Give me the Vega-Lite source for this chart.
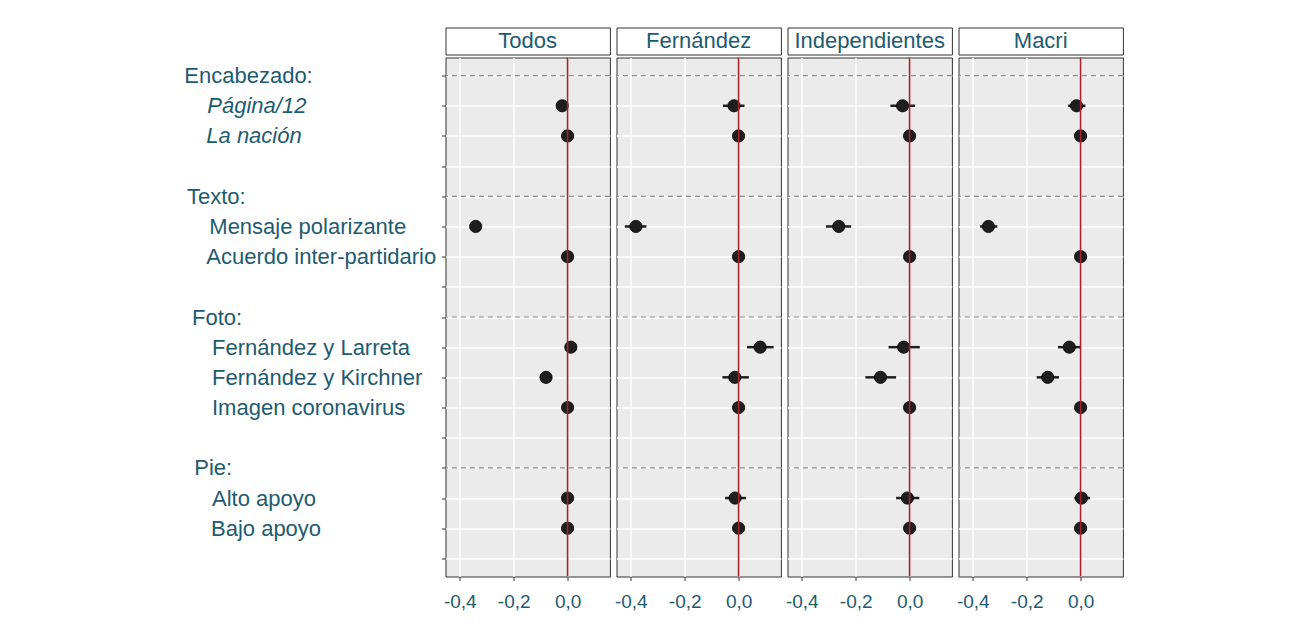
{
  "$schema": "https://vega.github.io/schema/vega-lite/v6.json",
  "background": "white",
  "padding": {"left": 182.5, "top": 26.5, "right": 0, "bottom": 0},
  "config": {
    "font": "Liberation Sans",
    "axis": {"labelFont": "Liberation Sans", "labelColor": "#1d5b70"},
    "text": {"font": "Liberation Sans"}
  },
  "datasets": {
    "hdr": [{"row": "Encabezado:"}, {"row": "Texto:"}, {"row": "Foto:"}, {"row": "Pie:"}],
    "est": [
      {"panel": "Todos", "row": "Página/12", "est": -0.02, "lo": -0.03, "hi": -0.01},
      {"panel": "Todos", "row": "La nación", "est": 0, "lo": 0, "hi": 0},
      {"panel": "Todos", "row": "Mensaje polarizante", "est": -0.341, "lo": -0.355, "hi": -0.327},
      {"panel": "Todos", "row": "Acuerdo inter-partidario", "est": 0, "lo": 0, "hi": 0},
      {"panel": "Todos", "row": "Fernández y Larreta", "est": 0.012, "lo": -0.005, "hi": 0.03},
      {"panel": "Todos", "row": "Fernández y Kirchner", "est": -0.08, "lo": -0.1, "hi": -0.06},
      {"panel": "Todos", "row": "Imagen coronavirus", "est": 0, "lo": 0, "hi": 0},
      {"panel": "Todos", "row": "Alto apoyo", "est": 0, "lo": -0.008, "hi": 0.008},
      {"panel": "Todos", "row": "Bajo apoyo", "est": 0, "lo": 0, "hi": 0},
      {"panel": "Fernández", "row": "Página/12", "est": -0.017, "lo": -0.058, "hi": 0.022},
      {"panel": "Fernández", "row": "La nación", "est": 0, "lo": 0, "hi": 0},
      {"panel": "Fernández", "row": "Mensaje polarizante", "est": -0.381, "lo": -0.422, "hi": -0.342},
      {"panel": "Fernández", "row": "Acuerdo inter-partidario", "est": 0, "lo": 0, "hi": 0},
      {"panel": "Fernández", "row": "Fernández y Larreta", "est": 0.08, "lo": 0.031, "hi": 0.13},
      {"panel": "Fernández", "row": "Fernández y Kirchner", "est": -0.014, "lo": -0.06, "hi": 0.038},
      {"panel": "Fernández", "row": "Imagen coronavirus", "est": 0, "lo": 0, "hi": 0},
      {"panel": "Fernández", "row": "Alto apoyo", "est": -0.013, "lo": -0.05, "hi": 0.027},
      {"panel": "Fernández", "row": "Bajo apoyo", "est": 0, "lo": 0, "hi": 0},
      {"panel": "Independientes", "row": "Página/12", "est": -0.026, "lo": -0.071, "hi": 0.02},
      {"panel": "Independientes", "row": "La nación", "est": 0, "lo": 0, "hi": 0},
      {"panel": "Independientes", "row": "Mensaje polarizante", "est": -0.263, "lo": -0.31, "hi": -0.217},
      {"panel": "Independientes", "row": "Acuerdo inter-partidario", "est": 0, "lo": 0, "hi": 0},
      {"panel": "Independientes", "row": "Fernández y Larreta", "est": -0.022, "lo": -0.078, "hi": 0.038},
      {"panel": "Independientes", "row": "Fernández y Kirchner", "est": -0.108, "lo": -0.164, "hi": -0.05},
      {"panel": "Independientes", "row": "Imagen coronavirus", "est": 0, "lo": 0, "hi": 0},
      {"panel": "Independientes", "row": "Alto apoyo", "est": -0.008, "lo": -0.05, "hi": 0.036},
      {"panel": "Independientes", "row": "Bajo apoyo", "est": 0, "lo": 0, "hi": 0},
      {"panel": "Macri", "row": "Página/12", "est": -0.015, "lo": -0.046, "hi": 0.018},
      {"panel": "Macri", "row": "La nación", "est": 0, "lo": 0, "hi": 0},
      {"panel": "Macri", "row": "Mensaje polarizante", "est": -0.342, "lo": -0.373, "hi": -0.309},
      {"panel": "Macri", "row": "Acuerdo inter-partidario", "est": 0, "lo": 0, "hi": 0},
      {"panel": "Macri", "row": "Fernández y Larreta", "est": -0.042, "lo": -0.084, "hi": 0.0},
      {"panel": "Macri", "row": "Fernández y Kirchner", "est": -0.122, "lo": -0.163, "hi": -0.08},
      {"panel": "Macri", "row": "Imagen coronavirus", "est": 0, "lo": 0, "hi": 0},
      {"panel": "Macri", "row": "Alto apoyo", "est": 0.003, "lo": -0.023, "hi": 0.035},
      {"panel": "Macri", "row": "Bajo apoyo", "est": 0, "lo": 0, "hi": 0}
    ]
  },
  "spacing": 2,
  "hconcat": [
    {
      "spacing": 0,
      "vconcat": [
        {"width": 164.4, "height": 27, "view": {"fill": "white", "stroke": "#333333", "strokeWidth": 1},
         "data": {"values": [{"panel": "Todos"}]},
         "mark": {"type": "text", "fontSize": 22, "color": "#1d5b70", "font": "Liberation Sans"},
         "encoding": {"text": {"field": "panel"}}},
        {"width": 164.4, "height": 519, "view": {"fill": "#EBEBEB", "stroke": "#333333", "strokeWidth": 1},
         "layer": [
          {"data": {"name": "hdr"}, "mark": {"type": "rule", "color": "#8a8a8a", "strokeDash": [5, 4], "strokeWidth": 1.2},
           "encoding": {"y": {"field": "row", "type": "nominal", "title": null,
             "scale": {"type": "point", "padding": 0.6, "domain": ["Encabezado:","Página/12","La nación","b1","Texto:","Mensaje polarizante","Acuerdo inter-partidario","b2","Foto:","Fernández y Larreta","Fernández y Kirchner","Imagen coronavirus","b3","Pie:","Alto apoyo","Bajo apoyo","b4"]},
             "axis": {"labels": true, "ticks": true, "tickSize": 4, "tickColor": "#333333", "labelAlign": "left", "labelBaseline": "middle", "labelFontSize": 22, "labelLimit": 0,
               "labelPadding": {"condition": [
                 {"test": "datum.value === 'Encabezado:'", "value": 257.7},
                 {"test": "datum.value === 'Texto:'", "value": 255},
                 {"test": "datum.value === 'Foto:'", "value": 250},
                 {"test": "datum.value === 'Pie:'", "value": 247.7},
                 {"test": "datum.value === 'Página/12'", "value": 234.7},
                 {"test": "datum.value === 'Mensaje polarizante'", "value": 232.7},
                 {"test": "datum.value === 'La nación' || datum.value === 'Acuerdo inter-partidario'", "value": 235.7},
                 {"test": "datum.value === 'Bajo apoyo'", "value": 231}
               ], "value": 230},
               "labelExpr": "test(/^b[0-9]$/, datum.value) ? '' : datum.value",
               "labelFontStyle": {"condition": {"test": "indexof(['Página/12','La nación'], datum.value) >= 0", "value": "italic"}, "value": "normal"},
               "grid": true, "gridColor": "white", "gridWidth": 1.3, "domain": false}}}},
          {"data": {"name": "est"}, "transform": [{"filter": "datum.panel === 'Todos'"}],
           "mark": {"type": "rule", "color": "#1e1e1e", "strokeWidth": 2.5},
           "encoding": {"x": {"field": "lo", "type": "quantitative", "title": null, "scale": {"domain": [-0.453, 0.157], "nice": false, "zero": false},
             "axis": {"values": [-0.4, -0.3, -0.2, -0.1, 0, 0.1], "labelExpr": "round(datum.value*10) % 2 === 0 ? replace(replace(format(datum.value, '.1f'), '.', ','), '\u2212', '-') : ''",
               "tickOpacity": {"condition": {"test": "round(datum.value*10) % 2 === 0", "value": 1}, "value": 0},
               "gridWidth": {"condition": {"test": "round(datum.value*10) % 2 === 0", "value": 1.4}, "value": 0.7},
               "gridColor": "white", "tickColor": "#333333", "tickSize": 4, "labelFontSize": 19, "labelPadding": 12, "domain": false, "labelFlush": false}},
             "x2": {"field": "hi"}, "y": {"field": "row", "type": "nominal", "title": null}}},
          {"data": {"name": "est"}, "transform": [{"filter": "datum.panel === 'Todos'"}],
           "mark": {"type": "circle", "size": 150, "color": "#1e1e1e", "opacity": 1, "stroke": "#000000", "strokeWidth": 0.8},
           "encoding": {"x": {"field": "est", "type": "quantitative", "title": null}, "y": {"field": "row", "type": "nominal", "title": null}}},
          {"data": {"values": [{}]}, "mark": {"type": "rule", "color": "#A4262C", "strokeWidth": 1.6},
           "encoding": {"x": {"datum": 0}}}
         ]}
      ]
    },
    {
      "spacing": 0,
      "vconcat": [
        {"width": 164.4, "height": 27, "view": {"fill": "white", "stroke": "#333333", "strokeWidth": 1},
         "data": {"values": [{"panel": "Fernández"}]},
         "mark": {"type": "text", "fontSize": 22, "color": "#1d5b70", "font": "Liberation Sans"},
         "encoding": {"text": {"field": "panel"}}},
        {"width": 164.4, "height": 519, "view": {"fill": "#EBEBEB", "stroke": "#333333", "strokeWidth": 1},
         "layer": [
          {"data": {"name": "hdr"}, "mark": {"type": "rule", "color": "#8a8a8a", "strokeDash": [5, 4], "strokeWidth": 1.2},
           "encoding": {"y": {"field": "row", "type": "nominal", "title": null,
             "scale": {"type": "point", "padding": 0.6, "domain": ["Encabezado:","Página/12","La nación","b1","Texto:","Mensaje polarizante","Acuerdo inter-partidario","b2","Foto:","Fernández y Larreta","Fernández y Kirchner","Imagen coronavirus","b3","Pie:","Alto apoyo","Bajo apoyo","b4"]},
             "axis": {"labels": false, "ticks": false, "grid": true, "gridColor": "white", "gridWidth": 1.3, "domain": false}}}},
          {"data": {"name": "est"}, "transform": [{"filter": "datum.panel === 'Fernández'"}],
           "mark": {"type": "rule", "color": "#1e1e1e", "strokeWidth": 2.5},
           "encoding": {"x": {"field": "lo", "type": "quantitative", "title": null, "scale": {"domain": [-0.453, 0.157], "nice": false, "zero": false},
             "axis": {"values": [-0.4, -0.3, -0.2, -0.1, 0, 0.1], "labelExpr": "round(datum.value*10) % 2 === 0 ? replace(replace(format(datum.value, '.1f'), '.', ','), '\u2212', '-') : ''",
               "tickOpacity": {"condition": {"test": "round(datum.value*10) % 2 === 0", "value": 1}, "value": 0},
               "gridWidth": {"condition": {"test": "round(datum.value*10) % 2 === 0", "value": 1.4}, "value": 0.7},
               "gridColor": "white", "tickColor": "#333333", "tickSize": 4, "labelFontSize": 19, "labelPadding": 12, "domain": false, "labelFlush": false}},
             "x2": {"field": "hi"}, "y": {"field": "row", "type": "nominal", "title": null}}},
          {"data": {"name": "est"}, "transform": [{"filter": "datum.panel === 'Fernández'"}],
           "mark": {"type": "circle", "size": 150, "color": "#1e1e1e", "opacity": 1, "stroke": "#000000", "strokeWidth": 0.8},
           "encoding": {"x": {"field": "est", "type": "quantitative", "title": null}, "y": {"field": "row", "type": "nominal", "title": null}}},
          {"data": {"values": [{}]}, "mark": {"type": "rule", "color": "#A4262C", "strokeWidth": 1.6},
           "encoding": {"x": {"datum": 0}}}
         ]}
      ]
    },
    {
      "spacing": 0,
      "vconcat": [
        {"width": 164.4, "height": 27, "view": {"fill": "white", "stroke": "#333333", "strokeWidth": 1},
         "data": {"values": [{"panel": "Independientes"}]},
         "mark": {"type": "text", "fontSize": 22, "color": "#1d5b70", "font": "Liberation Sans"},
         "encoding": {"text": {"field": "panel"}}},
        {"width": 164.4, "height": 519, "view": {"fill": "#EBEBEB", "stroke": "#333333", "strokeWidth": 1},
         "layer": [
          {"data": {"name": "hdr"}, "mark": {"type": "rule", "color": "#8a8a8a", "strokeDash": [5, 4], "strokeWidth": 1.2},
           "encoding": {"y": {"field": "row", "type": "nominal", "title": null,
             "scale": {"type": "point", "padding": 0.6, "domain": ["Encabezado:","Página/12","La nación","b1","Texto:","Mensaje polarizante","Acuerdo inter-partidario","b2","Foto:","Fernández y Larreta","Fernández y Kirchner","Imagen coronavirus","b3","Pie:","Alto apoyo","Bajo apoyo","b4"]},
             "axis": {"labels": false, "ticks": false, "grid": true, "gridColor": "white", "gridWidth": 1.3, "domain": false}}}},
          {"data": {"name": "est"}, "transform": [{"filter": "datum.panel === 'Independientes'"}],
           "mark": {"type": "rule", "color": "#1e1e1e", "strokeWidth": 2.5},
           "encoding": {"x": {"field": "lo", "type": "quantitative", "title": null, "scale": {"domain": [-0.453, 0.157], "nice": false, "zero": false},
             "axis": {"values": [-0.4, -0.3, -0.2, -0.1, 0, 0.1], "labelExpr": "round(datum.value*10) % 2 === 0 ? replace(replace(format(datum.value, '.1f'), '.', ','), '\u2212', '-') : ''",
               "tickOpacity": {"condition": {"test": "round(datum.value*10) % 2 === 0", "value": 1}, "value": 0},
               "gridWidth": {"condition": {"test": "round(datum.value*10) % 2 === 0", "value": 1.4}, "value": 0.7},
               "gridColor": "white", "tickColor": "#333333", "tickSize": 4, "labelFontSize": 19, "labelPadding": 12, "domain": false, "labelFlush": false}},
             "x2": {"field": "hi"}, "y": {"field": "row", "type": "nominal", "title": null}}},
          {"data": {"name": "est"}, "transform": [{"filter": "datum.panel === 'Independientes'"}],
           "mark": {"type": "circle", "size": 150, "color": "#1e1e1e", "opacity": 1, "stroke": "#000000", "strokeWidth": 0.8},
           "encoding": {"x": {"field": "est", "type": "quantitative", "title": null}, "y": {"field": "row", "type": "nominal", "title": null}}},
          {"data": {"values": [{}]}, "mark": {"type": "rule", "color": "#A4262C", "strokeWidth": 1.6},
           "encoding": {"x": {"datum": 0}}}
         ]}
      ]
    },
    {
      "spacing": 0,
      "vconcat": [
        {"width": 164.4, "height": 27, "view": {"fill": "white", "stroke": "#333333", "strokeWidth": 1},
         "data": {"values": [{"panel": "Macri"}]},
         "mark": {"type": "text", "fontSize": 22, "color": "#1d5b70", "font": "Liberation Sans"},
         "encoding": {"text": {"field": "panel"}}},
        {"width": 164.4, "height": 519, "view": {"fill": "#EBEBEB", "stroke": "#333333", "strokeWidth": 1},
         "layer": [
          {"data": {"name": "hdr"}, "mark": {"type": "rule", "color": "#8a8a8a", "strokeDash": [5, 4], "strokeWidth": 1.2},
           "encoding": {"y": {"field": "row", "type": "nominal", "title": null,
             "scale": {"type": "point", "padding": 0.6, "domain": ["Encabezado:","Página/12","La nación","b1","Texto:","Mensaje polarizante","Acuerdo inter-partidario","b2","Foto:","Fernández y Larreta","Fernández y Kirchner","Imagen coronavirus","b3","Pie:","Alto apoyo","Bajo apoyo","b4"]},
             "axis": {"labels": false, "ticks": false, "grid": true, "gridColor": "white", "gridWidth": 1.3, "domain": false}}}},
          {"data": {"name": "est"}, "transform": [{"filter": "datum.panel === 'Macri'"}],
           "mark": {"type": "rule", "color": "#1e1e1e", "strokeWidth": 2.5},
           "encoding": {"x": {"field": "lo", "type": "quantitative", "title": null, "scale": {"domain": [-0.453, 0.157], "nice": false, "zero": false},
             "axis": {"values": [-0.4, -0.3, -0.2, -0.1, 0, 0.1], "labelExpr": "round(datum.value*10) % 2 === 0 ? replace(replace(format(datum.value, '.1f'), '.', ','), '\u2212', '-') : ''",
               "tickOpacity": {"condition": {"test": "round(datum.value*10) % 2 === 0", "value": 1}, "value": 0},
               "gridWidth": {"condition": {"test": "round(datum.value*10) % 2 === 0", "value": 1.4}, "value": 0.7},
               "gridColor": "white", "tickColor": "#333333", "tickSize": 4, "labelFontSize": 19, "labelPadding": 12, "domain": false, "labelFlush": false}},
             "x2": {"field": "hi"}, "y": {"field": "row", "type": "nominal", "title": null}}},
          {"data": {"name": "est"}, "transform": [{"filter": "datum.panel === 'Macri'"}],
           "mark": {"type": "circle", "size": 150, "color": "#1e1e1e", "opacity": 1, "stroke": "#000000", "strokeWidth": 0.8},
           "encoding": {"x": {"field": "est", "type": "quantitative", "title": null}, "y": {"field": "row", "type": "nominal", "title": null}}},
          {"data": {"values": [{}]}, "mark": {"type": "rule", "color": "#A4262C", "strokeWidth": 1.6},
           "encoding": {"x": {"datum": 0}}}
         ]}
      ]
    }
  ]
}
